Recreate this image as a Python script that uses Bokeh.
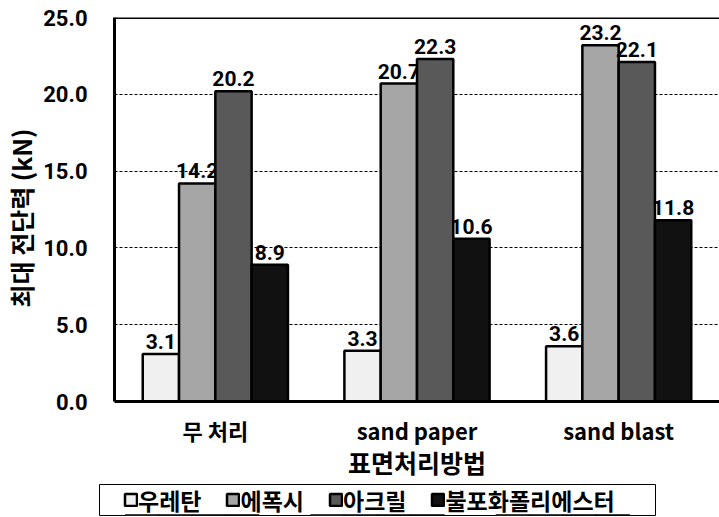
from bokeh.plotting import figure
from bokeh.models import (ColumnDataSource, FactorRange, Range1d, FixedTicker,
                          PrintfTickFormatter, Legend, LegendItem, Span)
from bokeh.layouts import column
from bokeh.transform import dodge
from bokeh.core.properties import value
from bokeh.embed import file_html
from bokeh.resources import INLINE

categories = ["무 처리", "sand paper", "sand blast"]
series = ["우레탄", "에폭시", "아크릴", "불포화폴리에스터"]
urethane = [3.1, 3.3, 3.6]
epoxy = [14.2, 20.7, 23.2]
acrylic = [20.2, 22.3, 22.1]
polyester = [8.9, 10.6, 11.8]
y_ticks = [0, 5, 10, 15, 20, 25]

colors = ["#f0f0f0", "#a6a6a6", "#595959", "#111111"]
offsets = [-0.27, -0.09, 0.09, 0.27]

KFONT = "Noto Sans CJK KR"
NFONT = "Roboto"
NBSP = "\u00a0"

p = figure(width=719, height=484, output_backend="svg", toolbar_location=None,
           x_range=FactorRange(*categories), y_range=Range1d(0, 25),
           min_border_left=113, min_border_right=0, min_border_top=17, min_border_bottom=83)
p.frame_align = False
p.outline_line_color = None

src = ColumnDataSource(dict(cat=categories,
                            s0=urethane, s1=epoxy, s2=acrylic, s3=polyester,
                            l0=[f"{v:.1f}" for v in urethane],
                            l1=[f"{v:.1f}" for v in epoxy],
                            l2=[f"{v:.1f}" for v in acrylic],
                            l3=[f"{v:.1f}" for v in polyester]))

for i in range(4):
    p.vbar(x=dodge("cat", offsets[i], range=p.x_range), top=f"s{i}", width=0.18,
           source=src, fill_color=colors[i], line_color="black", line_width=2.5)
    p.text(x=dodge("cat", offsets[i], range=p.x_range), y=f"s{i}", text=f"l{i}",
           source=src, text_align="center", text_baseline="bottom", y_offset=-5,
           text_font=value(NFONT), text_font_style="bold", text_font_size="21px",
           text_color="black")

p.add_layout(Span(location=25, dimension="width", line_color="black", line_width=3))

# grid
p.xgrid.grid_line_color = None
p.ygrid.grid_line_color = "black"
p.ygrid.grid_line_dash = "3 2"
p.ygrid.grid_line_width = 1
p.ygrid.ticker = FixedTicker(ticks=y_ticks)

# y axis
ya = p.yaxis[0]
ya.ticker = FixedTicker(ticks=y_ticks)
ya.formatter = PrintfTickFormatter(format="%.1f")
ya.axis_line_width = 3
ya.axis_line_color = "black"
ya.major_tick_out = 0
ya.major_tick_in = 0
ya.minor_tick_out = 0
ya.minor_tick_in = 0
ya.major_label_standoff = 27
ya.major_label_text_font = NFONT
ya.major_label_text_font_style = "bold"
ya.major_label_text_font_size = "22px"
ya.major_label_text_color = "black"
ya.axis_label = "최대 전단력 (kN)" + NBSP * 3
ya.axis_label_text_font = KFONT
ya.axis_label_text_font_style = "bold"
ya.axis_label_text_font_size = "25px"
ya.axis_label_text_color = "black"
ya.axis_label_standoff = 1

# x axis
xa = p.xaxis[0]
xa.axis_line_width = 3
xa.axis_line_color = "black"
xa.major_tick_out = 0
xa.major_tick_in = 0
xa.major_label_standoff = 12
xa.major_label_text_font = KFONT
xa.major_label_text_font_style = "bold"
xa.major_label_text_font_size = "22px"
xa.major_label_text_color = "black"
xa.axis_label = "표면처리방법"
xa.axis_label_text_font = KFONT
xa.axis_label_text_font_style = "bold"
xa.axis_label_text_font_size = "25px"
xa.axis_label_text_color = "black"
xa.axis_label_standoff = -5
xa.major_label_orientation = "horizontal"

# legend strip
p2 = figure(width=719, height=33, output_backend="svg", toolbar_location=None,
            x_range=FactorRange(*categories), y_range=Range1d(100, 101),
            x_axis_type=None, y_axis_type=None,
            min_border_left=99, min_border_right=64, min_border_top=0, min_border_bottom=2)
p2.frame_align = False
p2.outline_line_color = "black"
p2.outline_line_width = 1
p2.grid.visible = False

items = []
for i in range(4):
    r = p2.vbar(x=dodge("cat", offsets[i], range=p2.x_range), top=f"s{i}", width=0.18,
                source=src, fill_color=colors[i], line_color="black", line_width=2.5)
    items.append(LegendItem(label=series[i], renderers=[r]))

legend = Legend(items=items, orientation="horizontal", location="left",
                glyph_width=15, glyph_height=15, label_standoff=0, spacing=24,
                padding=0, margin=24,
                label_text_font=KFONT, label_text_font_style="bold",
                label_text_font_size="23px", label_text_color="black",
                border_line_color=None, background_fill_alpha=0)
p2.add_layout(legend, "center")

open("out.html", "w").write(file_html(column(p, p2), INLINE))
